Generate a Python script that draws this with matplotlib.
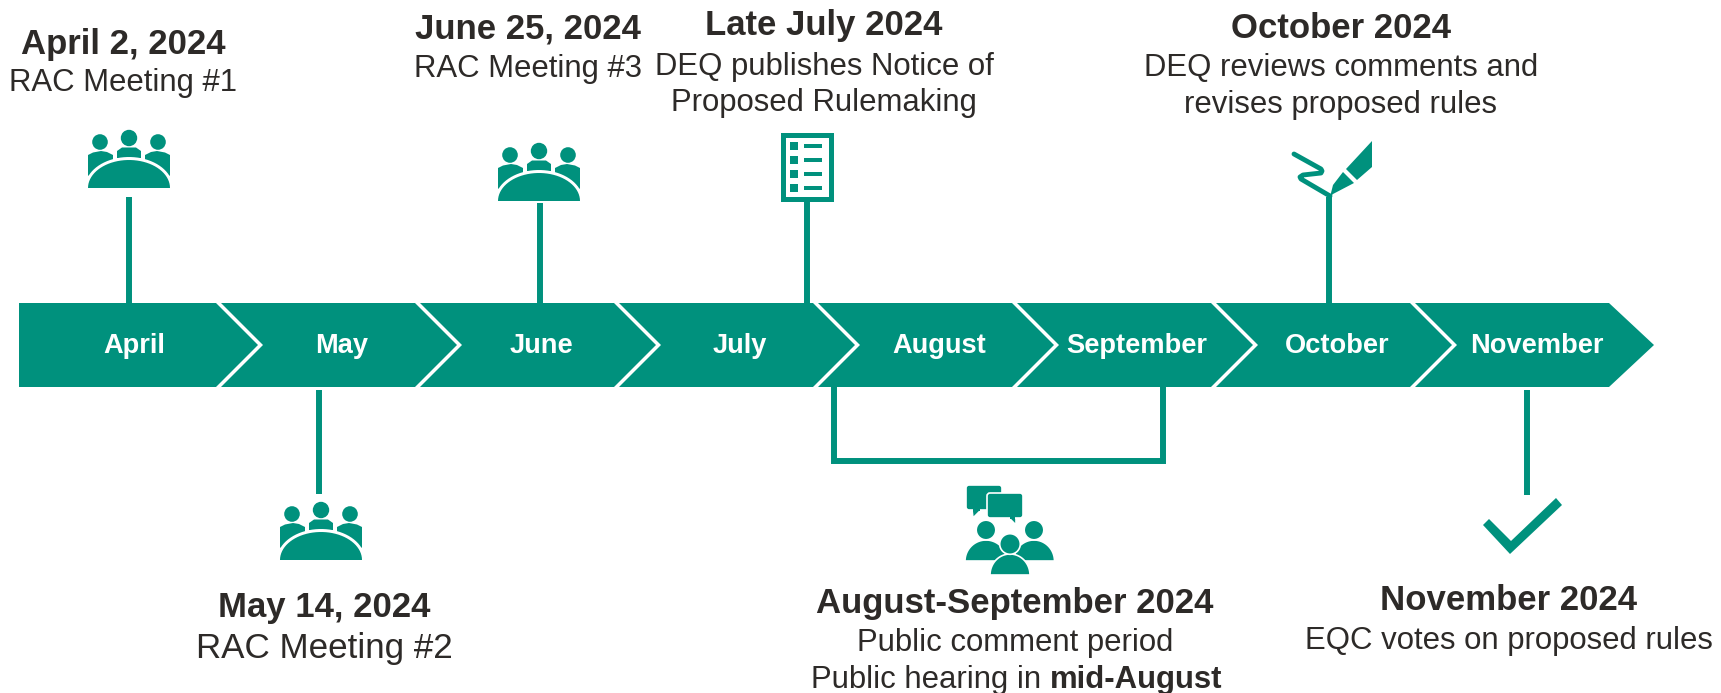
import matplotlib

matplotlib.use("Agg")
import matplotlib.pyplot as plt
import numpy as np
from matplotlib.patches import Circle, FancyBboxPatch, Polygon, Rectangle

plt.rcParams["font.family"] = ["Liberation Sans", "DejaVu Sans"]

TEAL = "#00917d"
TEXT = "#2d2a28"

MONTHS = ["April", "May", "June", "July", "August", "September", "October", "November"]
MONTH_CENTERS = [134, 342, 541, 740, 939, 1137, 1337, 1537]

HEADINGS = [
    "April 2, 2024",
    "May 14, 2024",
    "June 25, 2024",
    "Late July 2024",
    "August-September 2024",
    "October 2024",
    "November 2024",
]
DETAILS = [
    ["RAC Meeting #1"],
    ["RAC Meeting #2"],
    ["RAC Meeting #3"],
    ["DEQ publishes Notice of", "Proposed Rulemaking"],
    ["Public comment period"],
    ["DEQ reviews comments and", "revises proposed rules"],
    ["EQC votes on proposed rules"],
]
HEARING_PARTS = ["Public hearing in ", "mid-August"]

# text anchors in pixels: x, heading y, first detail y, detail spacing, detail size
TEXT_SPOTS = [
    (123, 44.5, 83.5, 0, 22.4),
    (324, 607.5, 648.5, 0, 25.2),
    (528, 28.5, 68.5, 0, 22.4),
    (824, 25.5, 66.5, 37, 22.4),
    (1015, 604, 642.5, 0, 22.4),
    (1341, 28.5, 68.5, 37, 22.4),
    (1509, 601, 640.5, 0, 22.4),
]

BAR_LEFT = 19
BAR_TOP = 303
BAR_BOTTOM = 387
STEP = 199
SHOULDER = 216
POINT = 42
GAP = 5
STEM = 4.3


def draw_bar(ax):
    mid = (BAR_TOP + BAR_BOTTOM) / 2
    for i, (month, center) in enumerate(zip(MONTHS, MONTH_CENTERS)):
        right = SHOULDER + i * STEP
        tip = right + POINT + (3 if i == len(MONTHS) - 1 else 0)
        if i == 0:
            left_pts = [(BAR_LEFT, BAR_BOTTOM), (BAR_LEFT, BAR_TOP)]
        else:
            left = right - STEP + GAP
            left_pts = [(left, BAR_BOTTOM), (left + POINT, mid), (left, BAR_TOP)]
        pts = left_pts + [(right, BAR_TOP), (tip, mid), (right, BAR_BOTTOM)]
        ax.add_patch(Polygon(pts, closed=True, fc=TEAL, ec="none"))
        ax.text(center, 353, month, color="white", fontsize=19.6, fontweight="bold",
                ha="center", va="baseline")


def stem(ax, xs, ys):
    ax.plot(xs, ys, color=TEAL, lw=STEM, solid_capstyle="butt", solid_joinstyle="miter")


def dome(cx, base, half_width, height):
    # upper half of an ellipse, flat side on base
    angles = np.linspace(np.pi, 0, 40)
    return np.column_stack([cx + half_width * np.cos(angles), base - height * np.sin(angles)])


def meeting_icon(ax, cx, bottom):
    # table top is half an ellipse, people sit behind it with a white gap
    for dx, head_y, r in [(-29, -46, 7.8), (0, -50, 8.2), (29, -46, 7.8)]:
        ax.add_patch(Circle((cx + dx, bottom + head_y), r, fc=TEAL, ec="none"))
    for side in (-1, 1):
        shape = [(41, -12), (41, -33), (36, -35.5), (28, -37), (22, -36), (16, -33), (16, -26)]
        ax.add_patch(Polygon([(cx + side * dx, bottom + dy) for dx, dy in shape],
                             closed=True, fc=TEAL, ec="none"))
    middle = [(-12, -30), (-12, -37), (-7, -40.5), (7, -40.5), (12, -37), (12, -30)]
    ax.add_patch(Polygon([(cx + dx, bottom + dy) for dx, dy in middle],
                         closed=True, fc=TEAL, ec="none"))
    ax.add_patch(Polygon(dome(cx, bottom, 44, 31), closed=True, fc="white", ec="none"))
    ax.add_patch(Polygon(dome(cx, bottom, 41, 28), closed=True, fc=TEAL, ec="none"))


def document_icon(ax):
    ax.add_patch(Rectangle((782.5, 134.5), 48, 64, fc="white", ec=TEAL, lw=3.6))
    for y in [142, 156, 170, 184]:
        ax.add_patch(Rectangle((790, y), 8, 8, fc=TEAL, ec="none"))
        ax.add_patch(Rectangle((804, y + 2), 18, 4, fc=TEAL, ec="none"))


def pen_icon(ax):
    ax.plot([1294, 1321, 1322, 1321, 1303, 1300, 1301, 1330], [154, 169, 171, 173, 175, 177, 179, 196],
            color=TEAL, lw=3.5, solid_capstyle="round", solid_joinstyle="round")
    ax.add_patch(Polygon([(1372, 141), (1372, 167), (1357, 180), (1346, 169)],
                         closed=True, fc=TEAL, ec="none"))
    ax.add_patch(Polygon([(1343, 172), (1354, 183), (1333, 194), (1330, 197), (1333, 185)],
                         closed=True, fc=TEAL, ec="none"))


def bubble(ax, x0, y0, x1, y1, tail):
    ax.add_patch(Polygon(tail, closed=True, fc=TEAL, ec="white", lw=1.2))
    ax.add_patch(FancyBboxPatch((x0 + 2, y0 + 2), x1 - x0 - 4, y1 - y0 - 4,
                                boxstyle="round,pad=2,rounding_size=3",
                                fc=TEAL, ec="white", lw=1.2))
    ax.add_patch(Rectangle((tail[0][0] + 1, y1 - 2), tail[2][0] - tail[0][0] - 2, 3, fc=TEAL, ec="none"))


def person(ax, cx, head_y, r, x0, x1, top, bottom):
    half = (x1 - x0) / 2 + 1
    ax.add_patch(Polygon(dome(cx, bottom + 1, half, bottom + 1 - top + 1), closed=True,
                         fc=TEAL, ec="white", lw=1.2))
    ax.add_patch(Circle((cx, head_y), r + 0.8, fc=TEAL, ec="white", lw=1.2))


def discussion_icon(ax):
    bubble(ax, 966, 485, 1002, 510, [(972, 510), (973, 518), (981, 510)])
    bubble(ax, 987, 493, 1023, 518, [(1009, 518), (1016, 525), (1016, 518)])
    person(ax, 986, 530, 9, 966, 1006, 541, 560)
    person(ax, 1034, 530, 9, 1014, 1053, 541, 560)
    person(ax, 1010, 544, 9.5, 991, 1029, 555, 574)


def check_icon(ax):
    ax.add_patch(Polygon([(1483, 525), (1510, 554), (1562, 505), (1556, 498), (1511, 541), (1489, 519)],
                         closed=True, fc=TEAL, ec="none"))


def draw_labels(ax):
    for heading, detail, spot in zip(HEADINGS, DETAILS, TEXT_SPOTS):
        x, head_y, line_y, spacing, size = spot
        ax.text(x, head_y, heading, color=TEXT, fontsize=25, fontweight="bold",
                ha="center", va="center")
        for n, line in enumerate(detail):
            ax.text(x, line_y + n * spacing, line, color=TEXT, fontsize=size,
                    ha="center", va="center")


def draw_hearing_line(ax, fig):
    # mixed weights on one line, so place the bold part after the regular part
    regular = ax.text(811, 680, HEARING_PARTS[0], color=TEXT, fontsize=22.4, ha="left", va="center")
    fig.canvas.draw()
    box = regular.get_window_extent().transformed(ax.transData.inverted())
    ax.text(box.x1, 680, HEARING_PARTS[1], color=TEXT, fontsize=22.4, fontweight="bold",
            ha="left", va="center")


def main():
    fig = plt.figure(figsize=(17.21, 6.93), dpi=100)
    ax = fig.add_axes([0, 0, 1, 1])
    ax.set_xlim(0, 1721)
    ax.set_ylim(693, 0)
    ax.axis("off")

    stem(ax, [128.5, 128.5], [197, BAR_TOP])
    stem(ax, [540, 540], [203, BAR_TOP])
    stem(ax, [807, 807], [200, BAR_TOP])
    stem(ax, [1329, 1329], [197, BAR_TOP])
    stem(ax, [318.5, 318.5], [390, 494])
    stem(ax, [1527, 1527], [390, 495])
    stem(ax, [834, 834, 1163, 1163], [BAR_BOTTOM, 461, 461, BAR_BOTTOM])

    draw_bar(ax)

    meeting_icon(ax, 129, 188)
    meeting_icon(ax, 539, 201)
    meeting_icon(ax, 321, 560)
    document_icon(ax)
    pen_icon(ax)
    discussion_icon(ax)
    check_icon(ax)

    draw_labels(ax)
    draw_hearing_line(ax, fig)

    fig.savefig("out.png", dpi=100, facecolor="white")
    plt.close(fig)


if __name__ == "__main__":
    main()
